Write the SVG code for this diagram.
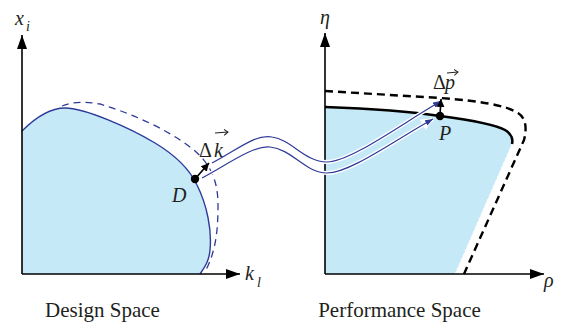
<svg xmlns="http://www.w3.org/2000/svg" width="564" height="327" viewBox="0 0 564 327">
<style>
.axis{stroke:#000;stroke-width:1.6;fill:none}
text{font-family:'Liberation Serif','DejaVu Serif',serif;fill:#231f20}
.it{font-style:italic}
.rib{fill:none;stroke:#2e3a98;stroke-width:1.2}
.halo{fill:none;stroke:#fff;stroke-width:4}
.fill{fill:#c6e9f8}
.vec{stroke:#231f20;stroke-width:1;fill:none}
</style>
<defs>
<marker id="ax" markerUnits="userSpaceOnUse" markerWidth="16" markerHeight="12" refX="14" refY="5" orient="auto"><path d="M0,0 L14,5 L0,10 Z" fill="#000"/></marker>
<marker id="sm" markerUnits="userSpaceOnUse" markerWidth="10" markerHeight="10" refX="8" refY="4" orient="auto"><path d="M0,0 L8,4 L0,8 Z" fill="#000"/></marker>
<marker id="bl" markerUnits="userSpaceOnUse" markerWidth="10" markerHeight="8" refX="8" refY="3" orient="auto"><path d="M0,0 L8,3 L0,6 Z" fill="#2e3a98"/></marker>
<marker id="wh" markerUnits="userSpaceOnUse" markerWidth="16" markerHeight="14" refX="12" refY="6" orient="auto"><path d="M0,0 L13,6 L0,12 Z" fill="#fff"/></marker>
<marker id="va" markerUnits="userSpaceOnUse" markerWidth="8" markerHeight="8" refX="4" refY="3" orient="auto"><path d="M0,0 L4,3 L0,6" fill="none" stroke="#231f20" stroke-width="1"/></marker>
</defs>

<g id="design-space">
<path class="fill" d="M22,131 C35,118 50,108 65,108 C85,108 130,128 155,143 C175,155 190,170 197,185 C207,205 212,230 210,250 C209,262 204,268 200,274 L22,274 Z"/>
<path d="M22,131 C35,118 50,108 65,108 C85,108 130,128 155,143 C175,155 190,170 197,185 C207,205 212,230 210,250 C209,262 204,268 200,274" fill="none" stroke="#2e3a98" stroke-width="1.4"/>
<path d="M62,106 C72,102 85,101 100,104 C130,113 165,128 190,147 C210,162 218,180 218,205 C218,230 216,250 206,270" fill="none" stroke="#2e3a98" stroke-width="1.3" stroke-dasharray="7,5"/>
<line class="axis" x1="22" y1="274" x2="22" y2="35" marker-end="url(#ax)"/>
<line class="axis" x1="22" y1="274" x2="240" y2="274" marker-end="url(#ax)"/>
<text class="it" x="15" y="25" font-size="20" font-family="Liberation Serif, DejaVu Serif, serif">x</text>
<text class="it" x="26" y="31" font-size="14" font-family="Liberation Serif, DejaVu Serif, serif">i</text>
<text class="it" x="245" y="280" font-size="20" font-family="Liberation Serif, DejaVu Serif, serif">k</text>
<text class="it" x="257" y="287" font-size="14" font-family="Liberation Serif, DejaVu Serif, serif">l</text>
<text x="102.5" y="317" font-size="21" text-anchor="middle" font-family="Liberation Serif, DejaVu Serif, serif">Design Space</text>
</g>

<g id="performance-space">
<path class="fill" d="M325,107 C380,109 420,113 440,116 C470,120 495,124 505,130 C512,134 513,140 512,144 L455,274 L325,274 Z"/>
<path d="M512,144 L455,274" stroke="#fff" stroke-width="1" stroke-dasharray="2,3" fill="none"/>
<path d="M325,107 C380,109 420,113 440,116 C470,120 495,124 505,130 C512,134 513,140 512,144" fill="none" stroke="#000" stroke-width="2.6"/>
<path d="M325,91 L440,98 C480,101 505,105 518,113 C526,118 527,128 524,140 L464,274" fill="none" stroke="#000" stroke-width="2.4" stroke-dasharray="8,5"/>
<line class="axis" x1="325" y1="274" x2="325" y2="33" marker-end="url(#ax)"/>
<line class="axis" x1="325" y1="274" x2="544" y2="274" marker-end="url(#ax)"/>
<text class="it" x="320" y="24" font-size="20" font-family="Liberation Serif, DejaVu Serif, serif">η</text>
<text class="it" x="544" y="287" font-size="20" font-family="Liberation Serif, DejaVu Serif, serif">ρ</text>
<text x="399.5" y="317" font-size="21" text-anchor="middle" font-family="Liberation Serif, DejaVu Serif, serif">Performance Space</text>
</g>

<g id="connectors">
<path class="halo" d="M212,163 C237,150 255,134 272,137 C292,140 305,162 327,162 C350,162 400,125 441,101" marker-end="url(#wh)"/>
<path class="halo" d="M202,178 C230,163 252,146 270,147 C292,149 305,173 327,173 C350,173 395,140 433,119" marker-end="url(#wh)"/>
<path class="rib" d="M212,163 C237,150 255,134 272,137 C292,140 305,162 327,162 C350,162 400,125 441,101" marker-end="url(#bl)"/>
<path class="rib" d="M202,178 C230,163 252,146 270,147 C292,149 305,173 327,173 C350,173 395,140 433,119" marker-end="url(#bl)"/>
</g>

<g id="point-D">
<line x1="195" y1="179" x2="209" y2="163" stroke="#000" stroke-width="1.6" marker-end="url(#sm)"/>
<circle cx="195" cy="179" r="4.2" fill="#000"/>
<text class="it" x="172" y="202" font-size="20" font-family="Liberation Serif, DejaVu Serif, serif">D</text>
<text x="199" y="157" font-size="20" font-family="Liberation Serif, DejaVu Serif, serif">Δ</text>
<text class="it" x="214" y="157" font-size="20" font-family="Liberation Serif, DejaVu Serif, serif">k</text>
<line class="vec" x1="215" y1="133" x2="228" y2="132" marker-end="url(#va)"/>
</g>

<g id="point-P">
<line x1="440" y1="115" x2="441" y2="99" stroke="#000" stroke-width="1.6" marker-end="url(#sm)"/>
<circle cx="440" cy="116" r="4.2" fill="#000"/>
<text class="it" x="439" y="140" font-size="20" font-family="Liberation Serif, DejaVu Serif, serif">P</text>
<text x="433" y="89" font-size="20" font-family="Liberation Serif, DejaVu Serif, serif">Δ</text>
<text class="it" x="445" y="89" font-size="20" font-family="Liberation Serif, DejaVu Serif, serif">p</text>
<line class="vec" x1="447" y1="73" x2="458" y2="72" marker-end="url(#va)"/>
</g>
</svg>
